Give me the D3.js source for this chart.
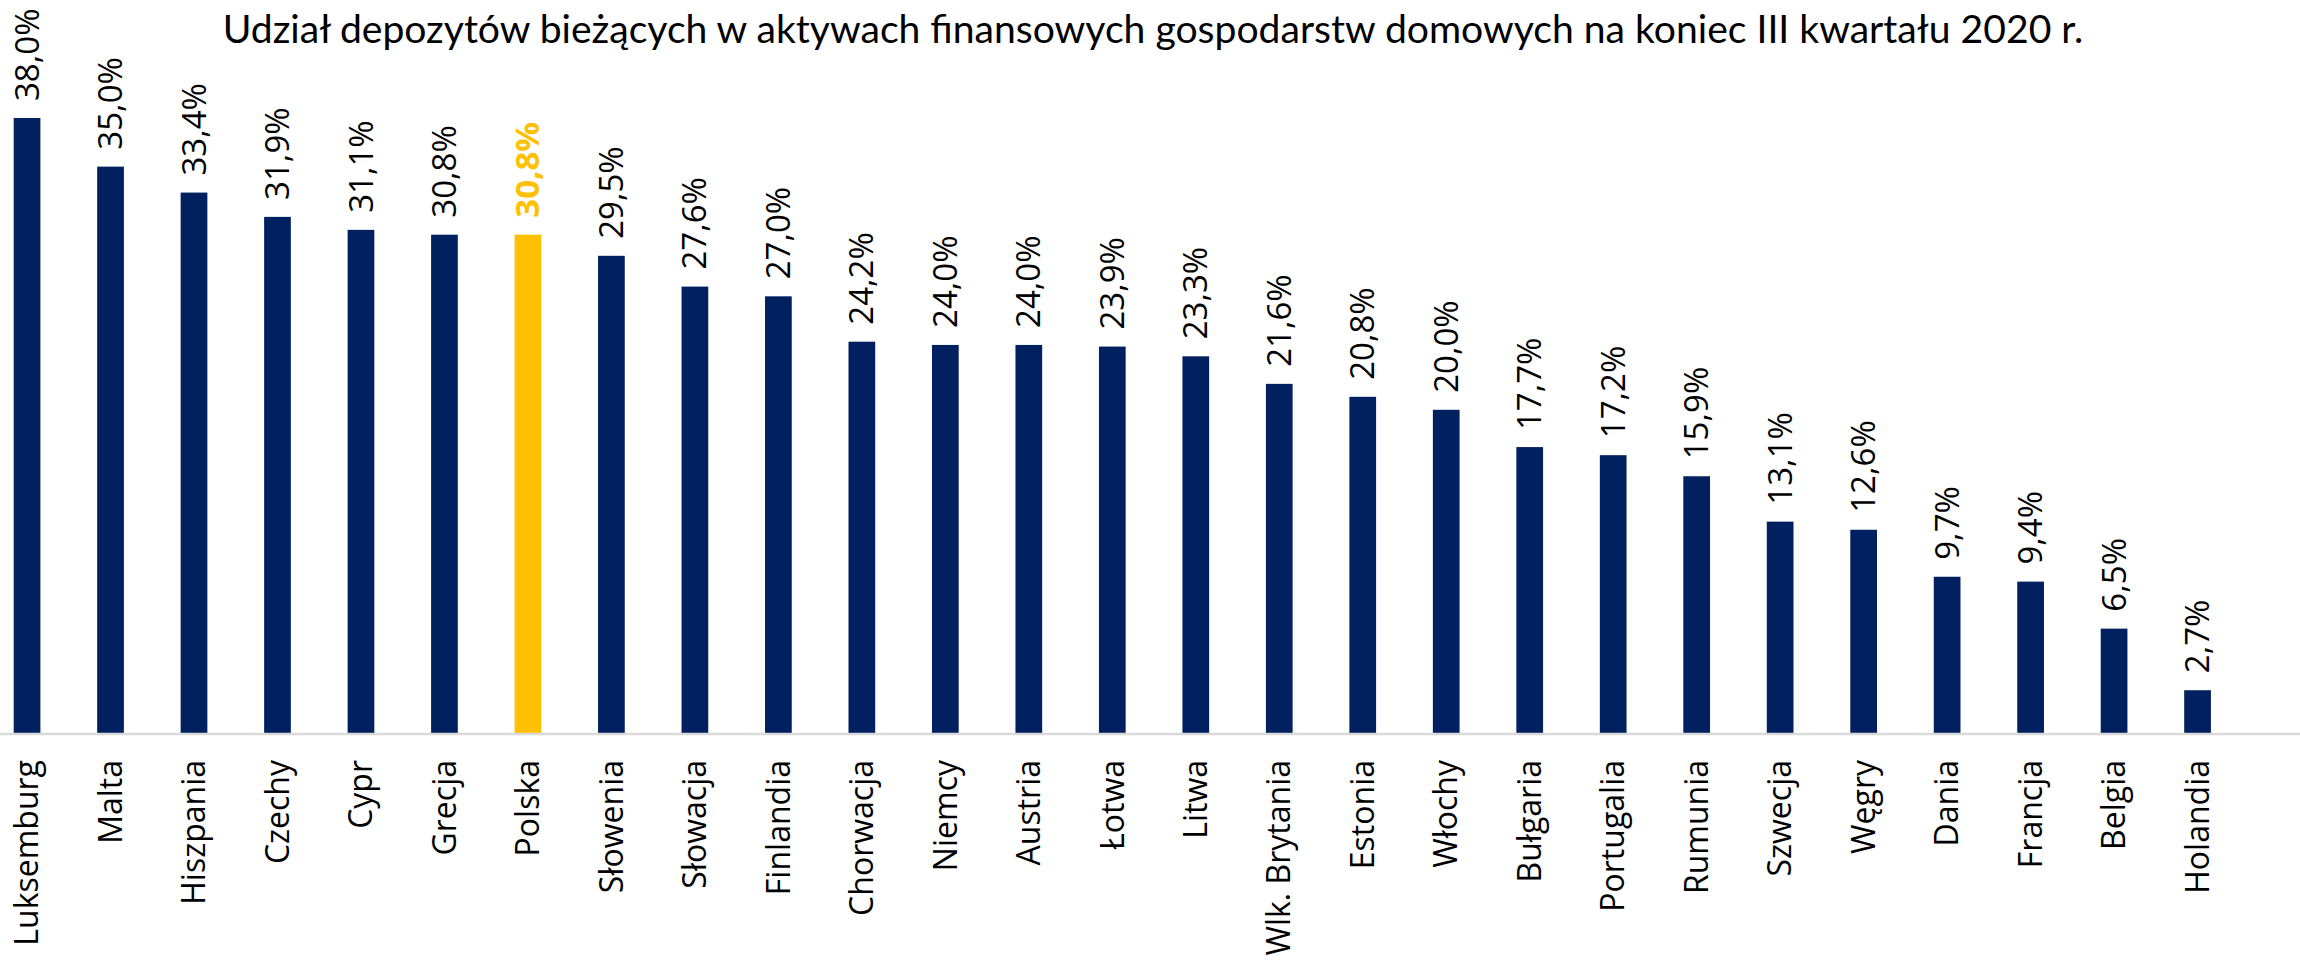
<!DOCTYPE html>
<html>
<head>
<meta charset="utf-8">
<script src="https://cdnjs.cloudflare.com/ajax/libs/d3/7.8.5/d3.min.js"></script>
<style>
  body { margin: 0; background: #fff; }
  svg { display: block; }
</style>
</head>
<body>
<svg id="chart" width="2300" height="960"></svg>
<script>
var title = "Udział depozytów bieżących w aktywach finansowych gospodarstw domowych na koniec III kwartału 2020 r.";

var countries = ["Luksemburg", "Malta", "Hiszpania", "Czechy", "Cypr", "Grecja", "Polska",
  "Słowenia", "Słowacja", "Finlandia", "Chorwacja", "Niemcy", "Austria", "Łotwa", "Litwa",
  "Wlk. Brytania", "Estonia", "Włochy", "Bułgaria", "Portugalia", "Rumunia", "Szwecja",
  "Węgry", "Dania", "Francja", "Belgia", "Holandia"];

var shares = [38.0, 35.0, 33.4, 31.9, 31.1, 30.8, 30.8, 29.5, 27.6, 27.0, 24.2, 24.0, 24.0,
  23.9, 23.3, 21.6, 20.8, 20.0, 17.7, 17.2, 15.9, 13.1, 12.6, 9.7, 9.4, 6.5, 2.7];

var highlight = "Polska";

var navy = "#002060";
var gold = "#FFC000";

var svg = d3.select("#chart");
var data = countries.map(function(c, i) { return { name: c, value: shares[i] }; });

// Scales
var x = d3.scaleBand()
  .domain(countries)
  .range([-14.7, 2239.3])
  .paddingInner(0.68)
  .paddingOuter(0.34);

var y = d3.scaleLinear()
  .domain([0, 38])
  .range([734, 118]);

// Title
var t = svg.append("text")
  .attr("x", 1153)
  .attr("y", 43)
  .attr("text-anchor", "middle")
  .attr("font-family", "Lato, 'Open Sans', sans-serif")
  .attr("font-size", 40)
  .attr("fill", "#000")
  .text(title);
// fit title to the reference width
var tw = t.node().getComputedTextLength();
t.attr("font-size", 40 * 1861 / tw);

// Bars
svg.selectAll(".bar")
  .data(data)
  .enter().append("rect")
  .attr("class", "bar")
  .attr("x", function(d) { return x(d.name); })
  .attr("y", function(d) { return y(d.value); })
  .attr("width", x.bandwidth())
  .attr("height", function(d) { return y(0) - y(d.value); })
  .attr("fill", function(d) { return d.name == highlight ? gold : navy; });

// Category axis
var axis = svg.append("g")
  .attr("transform", "translate(0," + y(0) + ")")
  .call(d3.axisBottom(x).tickSize(0).tickPadding(0));
axis.select(".domain")
  .attr("d", "M0,0H2300")
  .attr("stroke", "#d9d9d9")
  .attr("stroke-width", 2.5);
axis.selectAll(".tick text")
  .attr("font-family", "'Open Sans', sans-serif")
  .attr("font-size", 32)
  .attr("fill", "#000")
  .attr("text-anchor", "end")
  .attr("transform", "rotate(-90)")
  .attr("x", -26)
  .attr("y", 0)
  .attr("dy", "0.35em");

// Value labels
svg.selectAll(".label")
  .data(data)
  .enter().append("text")
  .attr("class", "label")
  .attr("transform", function(d) {
    return "translate(" + (x(d.name) + x.bandwidth() / 2) + "," + (y(d.value) - 17) + ") rotate(-90)";
  })
  .attr("dy", "0.35em")
  .attr("font-family", "'Open Sans', sans-serif")
  .attr("font-size", 33)
  .attr("font-weight", function(d) { return d.name == highlight ? "bold" : "normal"; })
  .attr("fill", function(d) { return d.name == highlight ? gold : "#000"; })
  .text(function(d) { return d.value.toFixed(1).replace(".", ",") + "%"; });
</script>
</body>
</html>
